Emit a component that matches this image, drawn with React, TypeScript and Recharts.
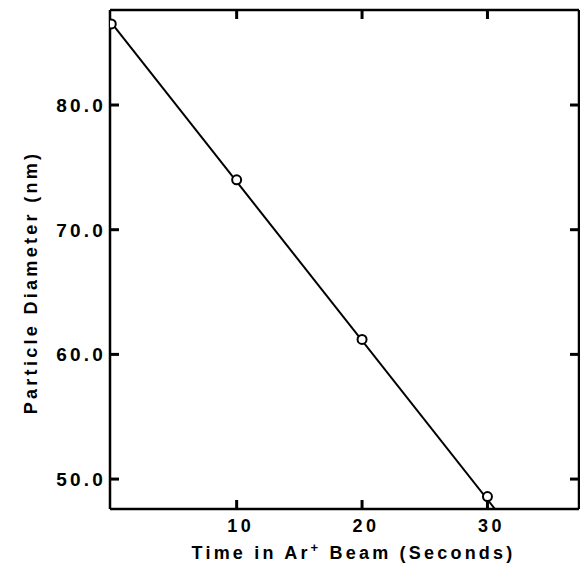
import React from "react";
import { ComposedChart, Line, Scatter, XAxis, YAxis } from "recharts";

// Measured points
const times = [0, 10, 20, 30];
const diameters = [86.5, 74.0, 61.2, 48.6];
// Fitted straight line (drawn through and past the points)
const fitTimes = [0, 30.6];
const fitDiameters = [86.6, 47.6];

const xTicks = [10, 20, 30];
const yTicks = [50, 60, 70, 80];
const xDomain: [number, number] = [-0.1, 37.3];
const yDomain: [number, number] = [47.6, 87.62];

const pointData = times.map((t, i) => ({ t, d: diameters[i] }));
const fitData = fitTimes.map((t, i) => ({ t, d: fitDiameters[i] }));

const FONT = "'Liberation Sans', Arial, Helvetica, sans-serif";
const TICK_LEN = 9;
const STROKE_W = 2.5;
const TICK_W = 3;

const textProps = {
  fontFamily: FONT,
  fontWeight: 700,
  fill: "#000",
};

// Left axis: tick mark pointing inward + label
const LeftTick = (props: any) => {
  const { x, y, payload } = props;
  const axisX = x + 7; // tickMargin
  return (
    <g>
      <line x1={axisX} x2={axisX + TICK_LEN} y1={y} y2={y} stroke="#000" strokeWidth={TICK_W} />
      <text x={axisX - 4} y={y + 7} textAnchor="end" fontSize={19} letterSpacing={3.2} {...textProps}>
        {Number(payload.value).toFixed(1)}
      </text>
    </g>
  );
};

// Bottom axis: tick mark pointing inward + label
const BottomTick = (props: any) => {
  const { x, y, payload } = props;
  const axisY = y; // tickMargin 0
  return (
    <g>
      <line x1={x} x2={x} y1={axisY} y2={axisY - TICK_LEN} stroke="#000" strokeWidth={TICK_W} />
      <text x={x + 4} y={axisY + 23} textAnchor="middle" fontSize={18} letterSpacing={3.5} {...textProps}>
        {payload.value}
      </text>
    </g>
  );
};

const TopTick = (props: any) => {
  const { x, y } = props;
  return <line x1={x} x2={x} y1={y} y2={y + TICK_LEN} stroke="#000" strokeWidth={TICK_W} />;
};

const RightTick = (props: any) => {
  const { x, y } = props;
  return <line x1={x} x2={x - TICK_LEN} y1={y} y2={y} stroke="#000" strokeWidth={TICK_W} />;
};

const OpenCircle = (props: any) => {
  const { cx, cy } = props;
  return <circle cx={cx} cy={cy} r={4.5} fill="#fff" stroke="#000" strokeWidth={2} />;
};

const XTitle = (props: any) => {
  const vb = props.viewBox || {};
  const cx = vb.x + vb.width / 2 + 9;
  const y = vb.y + vb.height - 5;
  return (
    <text x={cx} y={y} textAnchor="middle" fontSize={18} letterSpacing={3.2} {...textProps}>
      Time in Ar
      <tspan dy={-7} fontSize={13}>+</tspan>
      <tspan dy={7}> Beam (Seconds)</tspan>
    </text>
  );
};

const YTitle = (props: any) => {
  const vb = props.viewBox || {};
  const x = 37;
  const y = vb.y + vb.height / 2 + 23;
  return (
    <text x={x} y={y} transform={`rotate(-90, ${x}, ${y})`} textAnchor="middle" fontSize={18} letterSpacing={3.3} {...textProps}>
      Particle Diameter (nm)
    </text>
  );
};

export default function App() {
  return (
    <div style={{ position: "absolute", left: 0, top: 0, background: "#fff" }}>
      <ComposedChart width={580} height={564} margin={{ top: 0, right: 0, left: 0, bottom: 0 }}>
        <XAxis
          dataKey="t"
          type="number"
          domain={xDomain}
          ticks={xTicks}
          allowDataOverflow
          height={55}
          axisLine={{ stroke: "#000", strokeWidth: STROKE_W }}
          tickLine={false}
          tickSize={0}
          tickMargin={0}
          tick={<BottomTick />}
          label={{ content: XTitle }}
        />
        <XAxis
          xAxisId="top"
          orientation="top"
          dataKey="t"
          type="number"
          domain={xDomain}
          ticks={xTicks}
          allowDataOverflow
          height={10}
          axisLine={{ stroke: "#000", strokeWidth: STROKE_W }}
          tickLine={false}
          tickSize={0}
          tickMargin={0}
          tick={<TopTick />}
        />
        <YAxis
          dataKey="d"
          type="number"
          domain={yDomain}
          ticks={yTicks}
          allowDataOverflow
          width={110}
          axisLine={{ stroke: "#000", strokeWidth: STROKE_W }}
          tickLine={false}
          tickSize={0}
          tickMargin={7}
          tick={<LeftTick />}
          label={{ content: YTitle }}
        />
        <YAxis
          yAxisId="right"
          orientation="right"
          type="number"
          domain={yDomain}
          ticks={yTicks}
          allowDataOverflow
          width={1}
          axisLine={{ stroke: "#000", strokeWidth: STROKE_W }}
          tickLine={false}
          tickSize={0}
          tickMargin={0}
          tick={<RightTick />}
        />
        <Line
          data={fitData}
          dataKey="d"
          type="linear"
          stroke="#000"
          strokeWidth={2}
          dot={false}
          activeDot={false}
          isAnimationActive={false}
        />
        <Scatter data={pointData} dataKey="d" shape={<OpenCircle />} isAnimationActive={false} />
      </ComposedChart>
    </div>
  );
}
